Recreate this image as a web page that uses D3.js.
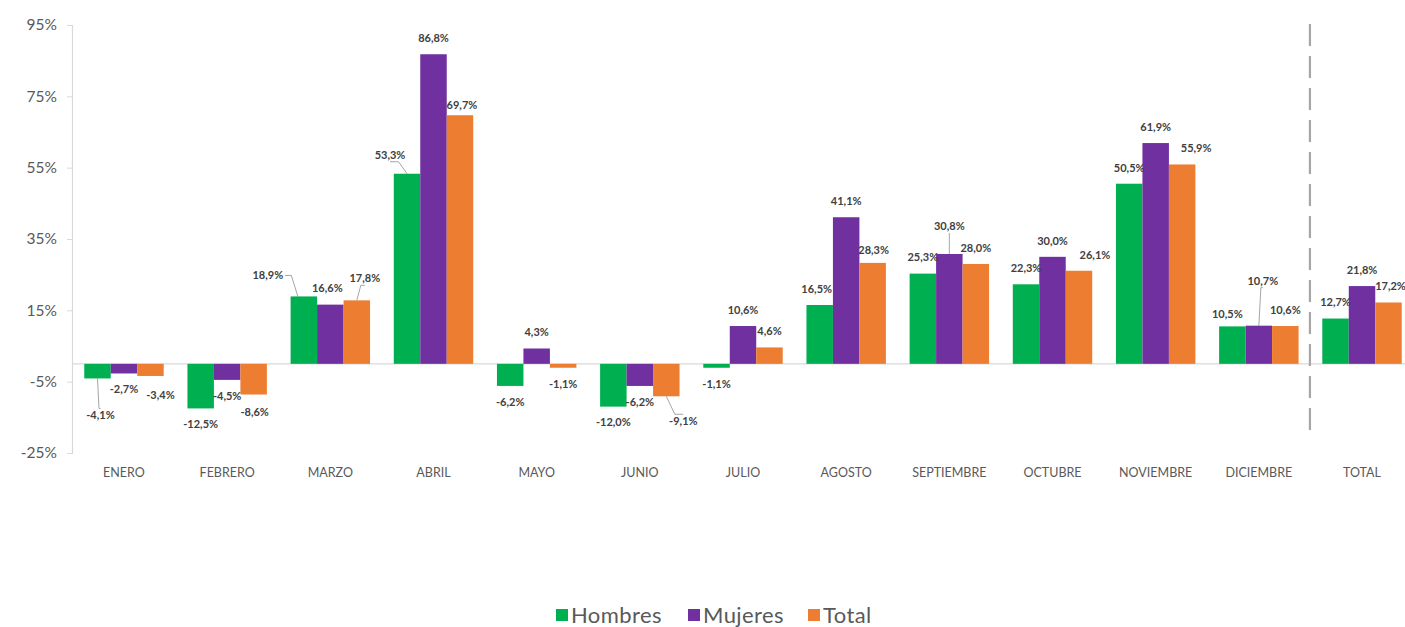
<!DOCTYPE html>
<html>
<head>
<meta charset="utf-8">
<script src="https://cdn.jsdelivr.net/npm/d3@7"></script>
<style>
  html, body { margin: 0; padding: 0; background: #ffffff; }
  svg { display: block; }
</style>
</head>
<body>
<svg id="chart" width="1405" height="627"></svg>
<script>
// Variación interanual por mes, según sexo
const categories = ["ENERO", "FEBRERO", "MARZO", "ABRIL", "MAYO", "JUNIO", "JULIO",
  "AGOSTO", "SEPTIEMBRE", "OCTUBRE", "NOVIEMBRE", "DICIEMBRE", "TOTAL"];
const seriesNames = ["Hombres", "Mujeres", "Total"];
const hombres = [-4.1, -12.5, 18.9, 53.3, -6.2, -12.0, -1.1, 16.5, 25.3, 22.3, 50.5, 10.5, 12.7];
const mujeres = [-2.7, -4.5, 16.6, 86.8, 4.3, -6.2, 10.6, 41.1, 30.8, 30.0, 61.9, 10.7, 21.8];
const total   = [-3.4, -8.6, 17.8, 69.7, -1.1, -9.1, 4.6, 28.3, 28.0, 26.1, 55.9, 10.6, 17.2];
const yTicks = [-25, -5, 15, 35, 55, 75, 95];

const seriesValues = [hombres, mujeres, total];
const colors = ["#00B050", "#7030A0", "#ED7D31"];

// Label displacements (px) for labels that sit off their default spot:
// [category index, series index, dx, dy, draw leader line]
const labelShift = [
  [0, 0, 3, 21, true], [0, 2, 10, 3, false], [1, 2, 1, 2, false],
  [2, 0, -36, -5, true], [2, 1, -3, 0, false], [2, 2, 8, -6, true],
  [3, 0, -17, -3, true], [3, 2, 2, 6, false],
  [5, 2, 17, 9, true], [7, 0, -3, 0, false], [7, 2, 1, 3, false],
  [8, 1, 0, -12, true], [9, 2, 16, 0, false], [10, 2, 14, 0, false],
  [11, 0, -5, 4, false], [11, 1, 4, -29, true],
  [12, 2, 2, 0, false]
];

const svg = d3.select("#chart");
const fontFamily = "Lato, 'Open Sans', 'DejaVu Sans', sans-serif";

const locale = d3.formatLocale({ decimal: ",", thousands: ".", grouping: [3], currency: ["", "€"], minus: "-" });
const fmtVal = v => locale.format(".1f")(v) + "%";

const x = d3.scaleBand()
  .domain(categories)
  .range([72.4, 1413.6])
  .paddingInner(0.23)
  .paddingOuter(0.115);

const xs = d3.scaleBand()
  .domain(seriesNames)
  .range([0, x.bandwidth()])
  .padding(0);

const y = d3.scaleLinear().domain([-25, 95]).range([453, 25]);

// Y axis
const yAxis = d3.axisLeft(y)
  .tickValues(yTicks)
  .tickSize(5)
  .tickPadding(10)
  .tickFormat(d => d + "%");

const gy = svg.append("g")
  .attr("transform", "translate(72,0)")
  .call(yAxis);
gy.select(".domain").attr("stroke", "#d9d9d9").attr("stroke-width", 1.2);
gy.selectAll(".tick line").attr("stroke", "#d9d9d9");
gy.selectAll(".tick text")
  .attr("fill", "#595959")
  .style("font-family", fontFamily)
  .style("font-size", "15.5px");

// zero baseline
svg.append("line")
  .attr("x1", 72).attr("x2", 1405)
  .attr("y1", y(0)).attr("y2", y(0))
  .attr("stroke", "#d9d9d9").attr("stroke-width", 1.2);

// bars
const groups = svg.append("g").selectAll("g.cat")
  .data(categories)
  .join("g")
  .attr("class", "cat")
  .attr("transform", d => `translate(${x(d)},0)`);

groups.each(function (cat, ci) {
  const g = d3.select(this);
  seriesNames.forEach((s, si) => {
    const v = seriesValues[si][ci];
    g.append("rect")
      .attr("x", xs(s))
      .attr("width", xs.bandwidth())
      .attr("y", Math.min(y(v), y(0)))
      .attr("height", Math.abs(y(v) - y(0)))
      .attr("fill", colors[si]);
  });
});

// separator before TOTAL
const sepX = x(categories[categories.length - 1]) - x.step() * x.paddingInner() / 2 - 0.5;
svg.append("line")
  .attr("x1", sepX).attr("x2", sepX)
  .attr("y1", 24).attr("y2", 440)
  .attr("stroke", "#a6a6a6")
  .attr("stroke-width", 2.2)
  .attr("stroke-dasharray", "22,10");

// data labels
const shiftMap = new Map(labelShift.map(d => [d[0] + "-" + d[1], d]));
const labelLayer = svg.append("g");
const leaderLayer = svg.insert("g", "g");

categories.forEach((cat, ci) => {
  seriesNames.forEach((s, si) => {
    const v = seriesValues[si][ci];
    const bx = x(cat) + xs(s) + xs.bandwidth() / 2;
    const end = y(v);
    const baseY = v >= 0 ? end - 16 : end + 16;
    const sh = shiftMap.get(ci + "-" + si) || [ci, si, 0, 0, false];
    const lx = bx + sh[2];
    const ly = baseY + sh[3];
    labelLayer.append("text")
      .attr("x", lx)
      .attr("y", ly)
      .attr("dy", "0.35em")
      .attr("text-anchor", "middle")
      .attr("fill", "#404040")
      .style("font-family", fontFamily)
      .style("font-weight", "700")
      .style("font-size", "11px")
      .text(fmtVal(v));
    if (sh[4]) {
      const halfW = 17;
      let sx, sy;
      if (Math.abs(sh[2]) > halfW) {
        sx = lx + (sh[2] < 0 ? halfW : -halfW);
        sy = ly;
      } else {
        sx = lx;
        sy = ly + (sh[3] > 0 ? -7 : 7);
      }
      const tx = bx + (sh[2] < -halfW ? -6 : (sh[2] > halfW ? 6 : 0));
      leaderLayer.append("path")
        .attr("d", `M${sx},${sy} L${(sx + tx) / 2},${sy} L${tx},${end}`)
        .attr("fill", "none")
        .attr("stroke", "#a6a6a6")
        .attr("stroke-width", 1);
    }
  });
});
labelLayer.raise();

// category labels
svg.append("g").selectAll("text")
  .data(categories)
  .join("text")
  .attr("x", d => x(d) + x.bandwidth() / 2)
  .attr("y", 473)
  .attr("dy", "0.35em")
  .attr("text-anchor", "middle")
  .attr("fill", "#595959")
  .style("font-family", fontFamily)
  .style("font-size", "12.5px")
  .text(d => d);

// legend
const legendX = [556, 688, 808];
const legend = svg.append("g");
seriesNames.forEach((s, i) => {
  legend.append("rect")
    .attr("x", legendX[i]).attr("y", 609)
    .attr("width", 12).attr("height", 12)
    .attr("fill", colors[i]);
  legend.append("text")
    .attr("x", legendX[i] + 15)
    .attr("y", 615)
    .attr("dy", "0.35em")
    .attr("fill", "#595959")
    .style("font-family", fontFamily)
    .style("font-size", "22px")
    .style("letter-spacing", "0.4px")
    .text(s);
});
</script>
</body>
</html>
